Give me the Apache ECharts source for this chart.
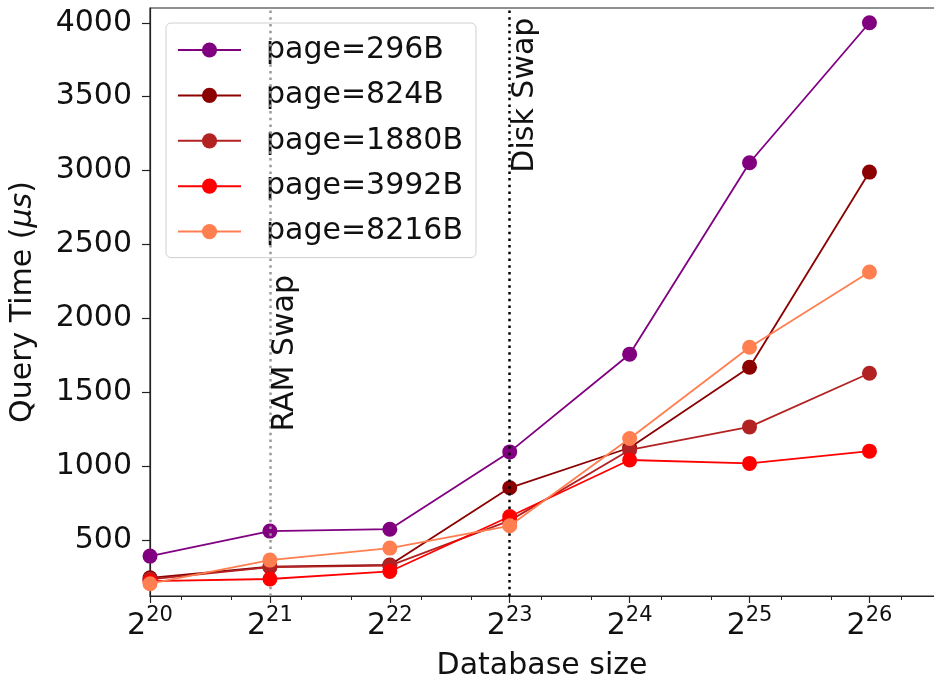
<!DOCTYPE html>
<html>
<head>
<meta charset="utf-8">
<script src="https://cdn.jsdelivr.net/npm/echarts@6/dist/echarts.min.js"></script>
<style>
  html, body { margin: 0; padding: 0; background: #fff; }
  #main { width: 934px; height: 685px; }
</style>
</head>
<body>
<div id="main"></div>
<script>
// x positions are log2 of the database size
let sizeExp = [20, 21, 22, 23, 24, 25, 26];
let names = ["page=296B", "page=824B", "page=1880B", "page=3992B", "page=8216B"];
let page296 = [392, 561, 574, 1097, 1758, 3053, 4000];
let page824 = [245, 320, 332, 854, 1125, 1670, 2990];
let page1880 = [235, 318, 328, 632, 1110, 1266, 1629];
let page3992 = [222, 237, 288, 660, 1042, 1019, 1102];
let page8216 = [205, 365, 446, 597, 1188, 1805, 2314];
let yTicks = [500, 1000, 1500, 2000, 2500, 3000, 3500, 4000];
let minorX = [20.263, 20.678, 21.263, 21.678, 22.263, 22.678, 23.263, 23.678, 24.263, 24.678, 25.263, 25.678, 26.263];
let swaps = [
  { x: 21, y: 1180, text: "RAM Swap", color: "#999999", dx: 8 },
  { x: 23, y: 2905, text: "Disk Swap", color: "#000000", dx: 12 }
];
let colorList = ["#800080", "#8b0000", "#b22222", "#ff0000", "#ff7f50"];

let chart = echarts.init(document.getElementById("main"));
let seriesData = [page296, page824, page1880, page3992, page8216];
const font = "DejaVu Sans";

let series = seriesData.map((vals, i) => ({
  name: names[i],
  type: "line",
  data: vals.map((v, j) => [sizeExp[j], v]),
  symbol: "circle",
  symbolSize: 15,
  lineStyle: { color: colorList[i], width: 1.8 },
  itemStyle: { color: colorList[i] },
  z: 3 + i
}));

// swap markers
series.push({
  name: "swap",
  type: "line",
  data: [],
  z: 2,
  markLine: {
    silent: true,
    symbol: "none",
    label: { show: false },
    data: swaps.map(s => ({
      xAxis: s.x,
      lineStyle: { color: s.color, type: [2.5, 4.2], width: 2.5 }
    }))
  },
  markPoint: {
    silent: true,
    symbol: "circle",
    symbolSize: 0,
    data: swaps.map(s => ({
      coord: [s.x, s.y],
      label: {
        show: true,
        formatter: s.text,
        position: "inside",
        rotate: 90,
        align: "left",
        verticalAlign: "top",
        offset: [s.dx, 0],
        color: "#111",
        fontFamily: font,
        fontSize: 30
      }
    }))
  }
});

let option = {
  animation: false,
  backgroundColor: "#fff",
  // right edge of the frame sits just past the canvas
  grid: {
    left: 150, width: 786, top: 8, bottom: 89,
    outerBoundsMode: "none",
    show: true, borderColor: "#222", borderWidth: 1.2
  },
  legend: {
    data: names,
    orient: "vertical",
    left: 166,
    top: 23,
    padding: [11, 13, 10, 11],
    itemWidth: 63,
    itemHeight: 19,
    itemGap: 13.4,
    borderColor: "#d0d0d0",
    borderWidth: 1,
    borderRadius: 5,
    backgroundColor: "rgba(255,255,255,0.8)",
    textStyle: {
      fontFamily: font,
      fontSize: 30,
      lineHeight: 32,
      color: "#111",
      padding: [0, 0, 0, 20]
    }
  },
  xAxis: [{
    type: "value",
    min: 20,
    max: 26.555,
    name: "Database size",
    nameLocation: "middle",
    nameGap: 55,
    nameTextStyle: { fontFamily: font, fontSize: 30, color: "#111", padding: [0, 2, 0, 0] },
    splitLine: { show: false },
    axisLine: { lineStyle: { color: "#222", width: 1.2 } },
    axisTick: { length: 7, customValues: sizeExp, lineStyle: { color: "#222", width: 1.2 } },
    axisLabel: {
      margin: 9,
      customValues: sizeExp,
      formatter: v => "{b|2}{s|" + v + "}",
      rich: {
        b: { fontFamily: font, fontSize: 30, lineHeight: 36, color: "#111", verticalAlign: "bottom" },
        s: { fontFamily: font, fontSize: 21, lineHeight: 36, color: "#111", verticalAlign: "top" }
      }
    }
  }, {
    type: "value",
    min: 20,
    max: 26.555,
    position: "bottom",
    splitLine: { show: false },
    axisLine: { show: false },
    axisLabel: { show: false },
    axisTick: { length: 4, customValues: minorX, lineStyle: { color: "#222", width: 1 } }
  }],
  yAxis: {
    type: "value",
    min: 122,
    max: 4100,
    name: "Query Time ({i|μs})",
    nameLocation: "middle",
    nameGap: 112,
    nameTextStyle: {
      fontFamily: font, fontSize: 30, color: "#111",
      rich: { i: { fontFamily: font, fontSize: 30, fontStyle: "italic", color: "#111" } }
    },
    splitLine: { show: false },
    axisLine: { show: true, lineStyle: { color: "#222", width: 1.2 } },
    axisTick: { show: true, length: 8, customValues: yTicks, lineStyle: { color: "#222", width: 1.2 } },
    axisLabel: {
      margin: 18,
      customValues: yTicks,
      formatter: v => String(v),
      fontFamily: font,
      fontSize: 30,
      color: "#111"
    }
  },
  series: series
};
chart.setOption(option);
</script>
</body>
</html>
